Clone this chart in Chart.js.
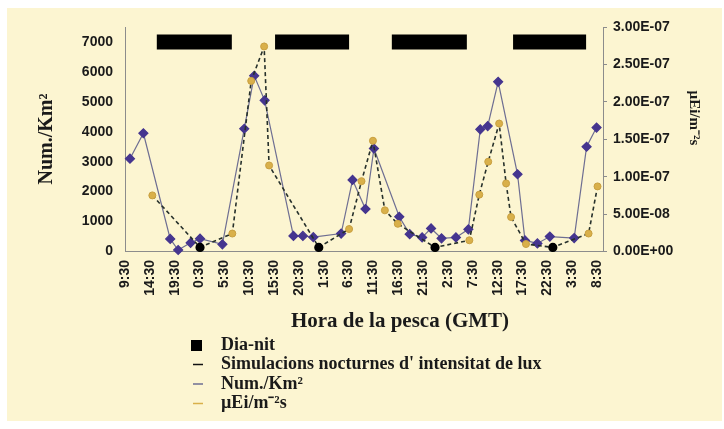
<html lang="ca">
<head>
<meta charset="utf-8">
<script src="https://cdn.jsdelivr.net/npm/chart.js@4.4.0/dist/chart.umd.min.js"></script>
<title>Num./Km2 i intensitat de lux</title>
<style>
    body { margin : 0 ; background : #ffffff ; }
    #wrap { position : relative ; width : 724px ; height : 429px ; }
</style>
</head>
<body>
<div id="wrap"><canvas id="pesca" width="724" height="429"></canvas></div>
<script>
    // hours counted from the first 9:30 on the axis
    const xTickLabels = ['9:30','14:30','19:30','0:30','5:30','10:30','15:30','20:30','1:30','6:30',
                         '11:30','16:30','21:30','2:30','7:30','12:30','17:30','22:30','3:30','8:30'];
    const leftTicks = [0, 1000, 2000, 3000, 4000, 5000, 6000, 7000];
    const rightTicks = [0, 5e-8, 1e-7, 1.5e-7, 2e-7, 2.5e-7, 3e-7];

    // Num./Km2
    const numHours  = [1.0, 3.7, 9.1, 10.7, 13.2, 15.1, 19.6, 24.0, 26.0, 28.1, 33.9, 35.8, 37.9, 43.5, 45.8, 48.4, 50.1,
                       55.2, 57.3, 59.8, 61.6, 63.7, 66.6, 69.1, 71.5, 73.0, 75.1, 79.0, 80.5, 83.0, 85.5, 90.4, 92.9, 94.9];
    const numValues = [3100, 3950, 420, 50, 290, 430, 240, 4100, 5870, 5050, 520, 520, 480, 600, 2390, 1420, 3440,
                       1160, 580, 470, 770, 440, 470, 740, 4080, 4190, 5670, 2580, 370, 270, 500, 450, 3500, 4140];

    // uEi/m-2s
    const lightHours  = [5.5, 21.6, 25.4, 28.0, 29.0, 45.1, 47.6, 49.9, 52.3, 54.9, 69.3, 71.3, 73.1, 75.3, 76.7, 77.7, 80.7, 93.3, 95.1];
    const lightValues = [7.5e-8, 2.4e-8, 2.28e-7, 2.74e-7, 1.15e-7, 3.0e-8, 9.4e-8, 1.48e-7, 5.5e-8, 3.7e-8,
                         1.5e-8, 7.6e-8, 1.2e-7, 1.71e-7, 9.1e-8, 4.6e-8, 1.0e-8, 2.4e-8, 8.7e-8];

    // simulacions nocturnes
    const simHours  = [15.1, 39.0, 62.4, 86.1];
    const simValues = [5.5e-9, 5.5e-9, 5.5e-9, 5.5e-9];

    // dia-nit bars
    const nightStart = [6.4, 30.2, 53.7, 78.1];
    const nightEnd   = [21.5, 45.1, 68.8, 92.8];
    const nightLevel = 7000;

    const tickFont = { family : '"Liberation Sans", Arial, sans-serif', size : 14, weight : 'bold' };
    const serif = '"Liberation Serif", "Times New Roman", serif';

    let nightPts = [];
    for (let i = 0; i < nightStart.length; i++) {
        nightPts.push({x : nightStart[i], y : nightLevel});
        nightPts.push({x : nightEnd[i], y : nightLevel});
        nightPts.push({x : nightEnd[i] + 0.5, y : null});
    }
    const dashPts = lightHours.map((h, i) => ({x : h, y : lightValues[i], sim : false}))
        .concat(simHours.map((h, i) => ({x : h, y : simValues[i], sim : true})))
        .sort((a, b) => a.x - b.x);

    function sci(v) {
        let s = Number(v).toExponential(2).toUpperCase();
        return s.replace(/E([+-])(\d)$/, 'E$10$2');
    }

    const decor = {
        id : 'decor',
        beforeDraw(chart) {
            const c = chart.ctx;
            c.save();
            c.fillStyle = '#ffffff';
            c.fillRect(0, 0, chart.width, chart.height);
            c.fillStyle = '#fcf5d1';
            c.fillRect(7, 8, 715, 413);
            c.restore();
        },
        afterDraw(chart) {
            const c = chart.ctx, xs = chart.scales.x;
            c.save();
            c.fillStyle = '#1a1a1a';
            // rotated hour labels
            c.font = 'bold 14px "Liberation Sans", Arial, sans-serif';
            c.textAlign = 'right';
            c.textBaseline = 'middle';
            xTickLabels.forEach((lab, i) => {
                const px = xs.getPixelForValue(i * 5);
                c.save();
                c.translate(px, 260);
                c.rotate(-Math.PI / 2);
                c.fillText(lab, 0, 0);
                c.restore();
            });
            // axis titles
            c.textAlign = 'center';
            c.font = 'bold 21px ' + serif;
            c.fillText('Hora de la pesca (GMT)', 400, 322);
            c.save();
            c.translate(47, 139);
            c.rotate(-Math.PI / 2);
            c.font = 'bold 20px ' + serif;
            c.fillText('Num./Km²', 0, 0);
            c.restore();
            c.save();
            c.translate(694, 118);
            c.rotate(Math.PI / 2);
            c.font = 'bold 15px ' + serif;
            c.fillText('µEi/m⁻²s', 0, 0);
            c.restore();
            // legend
            const rows = [345, 364.5, 384, 403.5];
            const names = ['Dia-nit', "Simulacions nocturnes d' intensitat de lux", 'Num./Km²', 'µEi/m⁻²s'];
            c.fillStyle = '#000';
            c.fillRect(191, rows[0] - 5, 11, 11);
            const cols = ['#111111', '#6e6e92', '#d9b04a'];
            for (let k = 1; k < 4; k++) {
                c.strokeStyle = cols[k - 1];
                c.lineWidth = 1.5;
                c.beginPath();
                c.moveTo(193, rows[k]);
                c.lineTo(203, rows[k]);
                c.stroke();
            }
            c.fillStyle = '#1a1a1a';
            c.textAlign = 'left';
            c.font = 'bold 18px ' + serif;
            names.forEach((n, k) => c.fillText(n, 221, rows[k]));
            c.restore();
        }
    };

    new Chart('pesca', {
        type : 'line',
        data : {
            datasets : [{
                label : 'µEi/m⁻²s',
                data : lightHours.map((h, i) => ({x : h, y : lightValues[i]})),
                yAxisID : 'y2',
                showLine : false,
                pointRadius : 3.5,
                pointBackgroundColor : '#d9b04a',
                pointBorderColor : '#c9a040',
                pointBorderWidth : 1,
                clip : false
            }, {
                label : "Simulacions nocturnes d' intensitat de lux",
                data : dashPts,
                yAxisID : 'y2',
                borderColor : '#26302b',
                borderWidth : 1.6,
                borderDash : [4, 3],
                pointRadius : ctx => (ctx.raw && ctx.raw.sim) ? 3.8 : 0,
                pointBackgroundColor : '#000',
                pointBorderColor : '#000',
                clip : false
            }, {
                label : 'Num./Km²',
                data : numHours.map((h, i) => ({x : h, y : numValues[i]})),
                yAxisID : 'y',
                borderColor : '#6e6e92',
                borderWidth : 1.2,
                pointStyle : 'rectRot',
                pointRadius : 4.5,
                pointBackgroundColor : '#45358f',
                pointBorderColor : '#45358f',
                clip : false
            }, {
                label : 'Dia-nit',
                data : nightPts,
                yAxisID : 'y',
                borderColor : '#000',
                borderWidth : 15,
                borderCapStyle : 'butt',
                pointRadius : 0,
                spanGaps : false
            }]
        },
        options : {
            responsive : false,
            animation : false,
            devicePixelRatio : 1,
            layout : { padding : { top : 27, left : 0, right : 0, bottom : 0 } },
            plugins : { legend : { display : false }, tooltip : { enabled : false } },
            scales : {
                x : {
                    type : 'linear', min : 0, max : 96.2,
                    grid : { display : false },
                    border : { display : true, color : '#8c8c8c', width : 1 },
                    ticks : { display : false },
                    afterFit : s => { s.height = 177.5; }
                },
                y : {
                    position : 'left', min : 0, max : 7500,
                    grid : { display : false },
                    border : { display : true, color : '#8c8c8c', width : 1 },
                    ticks : { font : tickFont, color : '#1a1a1a', padding : 4, callback : v => String(v) },
                    afterBuildTicks : s => { s.ticks = leftTicks.map(v => ({value : v})); },
                    afterFit : s => { s.width = 125; }
                },
                y2 : {
                    position : 'right', min : 0, max : 3e-7,
                    grid : { display : true, drawOnChartArea : false, drawTicks : true, tickLength : 4, color : '#8c8c8c' },
                    border : { display : true, color : '#8c8c8c', width : 1 },
                    ticks : { font : tickFont, color : '#1a1a1a', padding : 6, callback : v => sci(v) },
                    afterBuildTicks : s => { s.ticks = rightTicks.map(v => ({value : v})); },
                    afterFit : s => { s.width = 121; }
                }
            }
        },
        plugins : [decor]
    });
</script>
</body>
</html>
